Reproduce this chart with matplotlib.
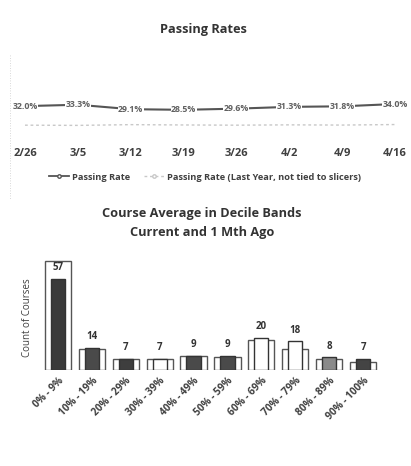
import matplotlib
matplotlib.use("Agg")
import matplotlib.pyplot as plt
from matplotlib.lines import Line2D
import numpy as np

plt.rcParams['font.family'] = ['Open Sans', 'DejaVu Sans']

# ---- data ----
dates = ["2/26", "3/5", "3/12", "3/19", "3/26", "4/2", "4/9", "4/16"]
passing_rate = [0.320, 0.333, 0.291, 0.285, 0.296, 0.313, 0.318, 0.340]
passing_rate_last_year = [0.140, 0.138, 0.145, 0.142, 0.140, 0.143, 0.141, 0.146]

bands = ["0% - 9%", "10% - 19%", "20% - 29%", "30% - 39%", "40% - 49%",
         "50% - 59%", "60% - 69%", "70% - 79%", "80% - 89%", "90% - 100%"]
current = [57, 14, 7, 7, 9, 9, 20, 18, 8, 7]
month_ago = [68, 13, 7, 7, 9, 8, 19, 13, 7, 5]

W, H = 411, 466
fig = plt.figure(figsize=(W / 100, H / 100), dpi=100)
fig.patch.set_facecolor("white")

def ax_px(l, t, r, b):
    return fig.add_axes([l / W, 1 - b / H, (r - l) / W, (b - t) / H])

txt = "#404040"

# ---- top chart: passing rates ----
ax1 = ax_px(10, 50, 400, 140)
x = np.arange(len(dates))
ax1.plot(x, passing_rate_last_year, color="#c8c8c8", lw=1.0, ls=(0, (2, 2)), zorder=1)
ax1.plot(x, passing_rate, color="#555555", lw=1.5, zorder=2)
for xi, v in zip(x, passing_rate):
    ax1.text(xi, v, f"{v*100:.1f}%", ha="center", va="center", fontsize=6.3,
             color="#606060", fontweight="bold",
             bbox=dict(boxstyle="square,pad=0.05", fc="white", ec="none"), zorder=3)
span = 52.86
ax1.set_xlim(-(25 - 10) / span, 7 + (400 - 395) / span)
ax1.set_ylim(0, 0.85)
ax1.set_yticks([])
ax1.set_xticks(x)
ax1.set_xticklabels(dates, fontsize=8, fontweight="bold", color=txt)
ax1.tick_params(axis="x", length=0, pad=6)
for s in ax1.spines.values():
    s.set_visible(False)

fig.text(203 / W, 1 - 29 / H, "Passing Rates", ha="center", va="center",
         fontsize=9.2, fontweight="bold", color="#333333")

handles = [Line2D([], [], color="#555555", lw=1.3, marker="o", ms=2.5, mfc="white"),
           Line2D([], [], color="#c8c8c8", lw=1.0, ls=(0, (2, 2)), marker="o", ms=2.5, mfc="white")]
fig.legend(handles, ["Passing Rate", "Passing Rate (Last Year, not tied to slicers)"],
           loc="center", bbox_to_anchor=(205 / W, 1 - 177 / H), ncol=2, frameon=False,
           handlelength=2.2, handletextpad=0.3, columnspacing=1.5,
           labelcolor=txt, prop=dict(weight="bold", size=6.7))

# faint dotted border on left
fig.add_artist(Line2D([10 / W, 10 / W], [1 - 55 / H, 1 - 200 / H], color="#cccccc",
                      lw=0.6, ls=(0, (1, 2))))

# ---- bottom chart: decile bands ----
fig.text(202 / W, 1 - 214 / H, "Course Average in Decile Bands", ha="center", va="center",
         fontsize=9.2, fontweight="bold", color="#333333")
fig.text(202 / W, 1 - 232 / H, "Current and 1 Mth Ago", ha="center", va="center",
         fontsize=9.2, fontweight="bold", color="#333333")

ax2 = ax_px(41, 255, 380, 370)
xb = np.arange(len(bands))
ax2.bar(xb, month_ago, width=0.77, color="white", edgecolor="#555555", lw=1.0, zorder=1)
inner_colors = ["#3a3a3a", "#4a4a4a", "#3e3e3e", "#ffffff", "#4a4a4a",
                "#4a4a4a", "#ffffff", "#ffffff", "#8a8a8a", "#444444"]
ax2.bar(xb, current, width=0.42, color=inner_colors, edgecolor="#333333", lw=1.0, zorder=2)
for xi, v in zip(xb, current):
    ax2.text(xi, v + 3.5, str(v), ha="center", va="bottom", fontsize=7,
             fontweight="bold", color="#333333", zorder=3)
ax2.set_xlim(-0.5, 9.5)
ax2.set_ylim(0, 72)
ax2.set_yticks([])
ax2.set_xticks(xb)
ax2.set_xticklabels(bands, rotation=45, ha="right", rotation_mode="anchor",
                    fontsize=7.3, fontweight="bold", color=txt)
ax2.tick_params(axis="x", length=0, pad=4)
for s in ax2.spines.values():
    s.set_visible(False)

fig.text(27 / W, 1 - 318 / H, "Count of Courses", rotation=90, ha="center", va="center",
         fontsize=7, color=txt)

fig.savefig("out.png", dpi=100, facecolor="white")
